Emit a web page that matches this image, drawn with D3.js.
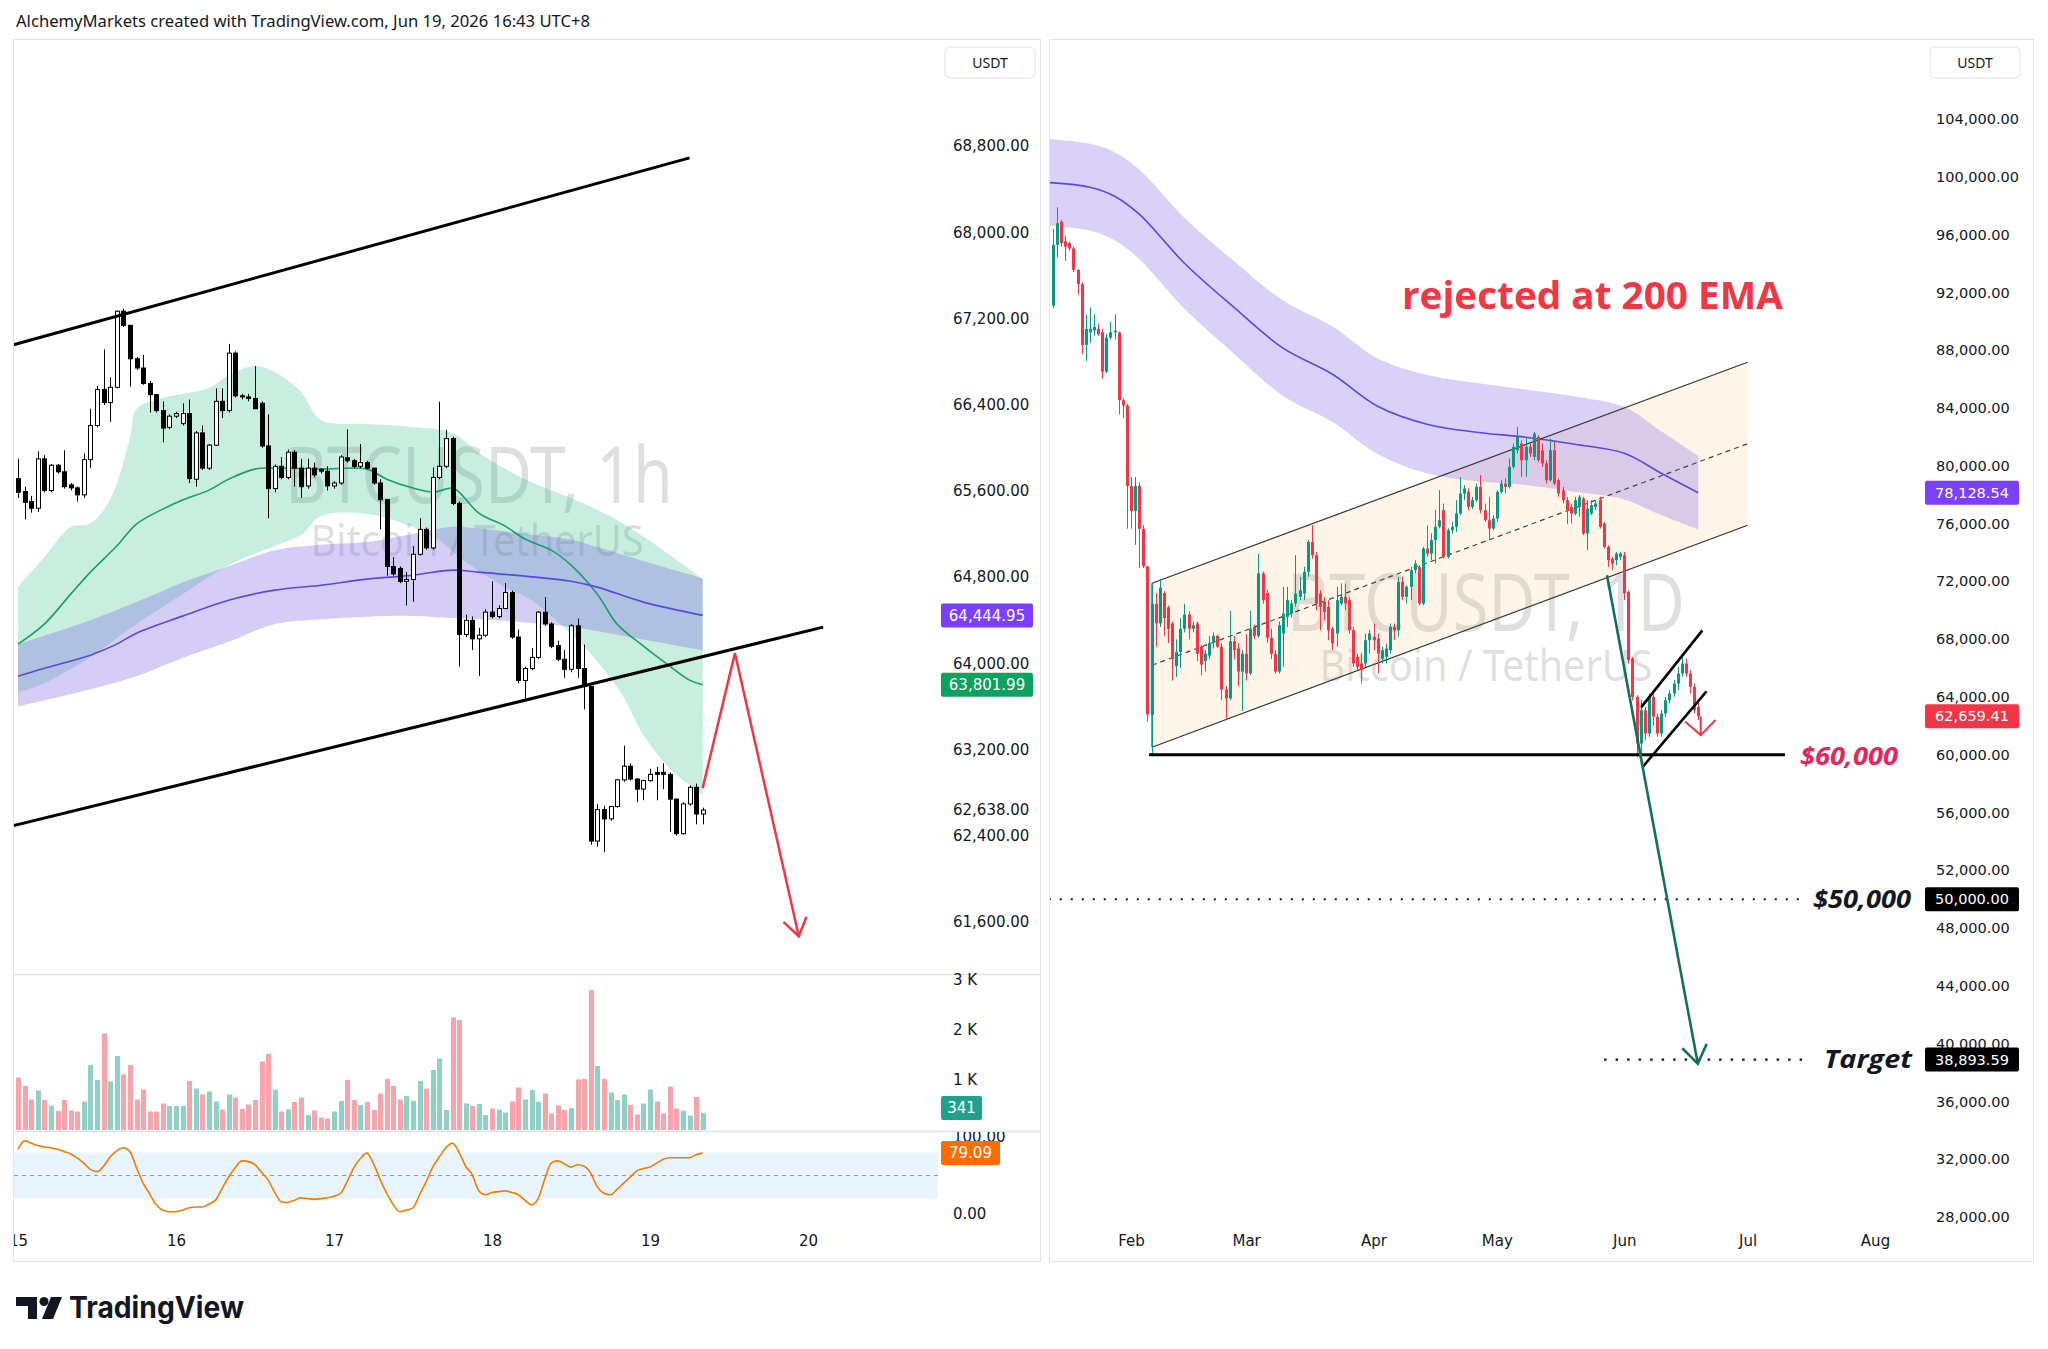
<!DOCTYPE html>
<html><head><meta charset="utf-8">
<script src="https://cdn.jsdelivr.net/npm/d3@7"></script>
<style>body{margin:0;background:#fff}svg{display:block}</style>
</head><body>
<script>
// ---------------- DATA ----------------
const H1_START = Date.UTC(2026,5,15);
const D1_START = Date.UTC(2026,0,13);
const HOUR = 3600e3, DAY = 86400e3;

// hourly BTCUSDT candles [open, high, low, close], starting Jun 15 00:00
const h1Candles = [
[65714,65897,65535,65587],[65594,65639,65336,65494],[65501,65553,65398,65439],[65439,65966,65405,65897],
[65897,65931,65587,65604],[65604,65850,65587,65838],[65838,65850,65760,65777],[65777,65976,65621,65639],
[65656,65673,65604,65628],[65628,65639,65501,65563],[65563,65948,65535,65890],[65890,66362,65811,66207],
[66207,66575,66190,66541],[66541,66913,66396,66420],[66420,66654,66241,66561],[66561,67274,66551,67267],
[67267,67290,67120,67136],[67136,67140,66568,66826],[66826,66844,66723,66740],[66740,66861,66585,66596],
[66596,66620,66327,66493],[66493,66500,66327,66345],[66345,66431,66052,66183],[66190,66310,66172,66293],
[66293,66334,66276,66317],[66224,66413,66207,66317],[66317,66448,65673,65714],[65708,66155,65639,66138],
[66138,66207,65794,65811],[65811,66035,65794,66024],[66024,66551,66017,66431],[66431,66551,66276,66345],
[66345,66964,66327,66878],[66878,66895,66465,66482],[66482,66500,66448,66472],[66472,66500,66431,66458],
[66458,66758,66362,66362],[66413,66431,66000,66017],[66017,66310,65346,65621],[65621,65845,65587,65828],
[65828,65914,65708,65725],[65725,65983,65708,65959],[65959,65976,65639,65811],[65811,65897,65535,65639],
[65646,65897,65621,65811],[65811,65862,65725,65749],[65801,65811,65760,65783],[65783,65828,65604,65646],
[65646,65690,65621,65673],[65673,65931,65656,65914],[65907,66172,65862,65880],[65880,65897,65811,65828],
[65828,66035,65811,65862],[65862,65880,65801,65811],[65811,65815,65656,65673],[65673,65708,65243,65518],
[65518,65520,64813,64898],[64898,64985,64813,64830],[64881,64898,64744,64761],[64761,64847,64537,64778],
[64778,65088,64571,65012],[65012,65346,65000,65243],[65243,65260,65054,65071],[65071,65818,65054,65725],
[65725,66427,65708,65828],[65828,66164,65811,66086],[66086,66103,65467,65484],[65484,65501,63969,64268],
[64268,64451,64244,64399],[64399,64434,64124,64227],[64227,64330,63883,64261],[64261,64502,64244,64475],
[64475,64761,64416,64434],[64434,64537,64416,64509],[64509,64744,64502,64657],[64657,64675,64227,64244],
[64244,64313,63814,63841],[63841,63969,63676,63952],[63952,64141,63935,64055],[64055,64485,64038,64475],
[64475,64613,64348,64365],[64365,64382,64141,64158],[64165,64210,64020,64038],[64038,64124,63866,63945],
[63945,64365,63917,64348],[64348,64416,63866,63952],[63952,64175,63573,63786],[63786,63790,62316,62351],
[62351,62695,62299,62643],[62643,62678,62247,62557],[62557,62678,62540,62671],[62671,62926,62661,62919],
[62919,63236,62902,63046],[63046,63074,62912,62926],[62926,62936,62712,62833],[62833,62919,62729,62912],
[62912,63022,62902,62970],[62988,63039,62729,62970],[62988,63074,62833,62970],[62970,62988,62437,62740],
[62740,62746,62402,62420],[62420,62712,62410,62695],[62695,62867,62678,62850],[62850,62884,62506,62602],
[62602,62661,62506,62638]];

// hourly volume, thousands
const h1Volume = [1.05,0.88,0.61,0.79,0.6,0.49,0.38,0.6,0.39,0.37,0.57,1.3,1.0,1.93,0.97,1.48,1.11,1.3,0.61,0.81,
0.37,0.37,0.53,0.48,0.48,0.48,0.98,0.83,0.71,0.77,0.57,0.41,0.71,0.65,0.42,0.51,0.6,1.37,1.52,0.81,
0.37,0.41,0.56,0.65,0.3,0.39,0.25,0.23,0.37,0.58,1.0,0.6,0.5,0.56,0.4,0.73,1.02,0.88,0.61,0.68,
0.58,0.98,0.83,1.2,1.43,0.4,2.25,2.2,0.53,0.48,0.52,0.3,0.43,0.41,0.35,0.57,0.85,0.61,0.8,0.56,
0.73,0.33,0.49,0.4,0.44,1.01,1.02,2.8,1.28,1.02,0.75,0.6,0.71,0.5,0.31,0.53,0.81,0.57,0.33,0.87,
0.43,0.39,0.29,0.66,0.341];

// hourly oscillator (stoch RSI)
const h1Osc = [84,95,92,89,87,86,84,81,78,73,66,58,55,62,74,82,86,81,60,40,
26,12,5,3,3,5,8,9,9,13,18,33,48,60,69,68,64,54,44,28,
16,15,18,21,20,19,20,21,23,27,42,60,72,79,65,45,27,12,3,5,
8,25,42,61,74,86,92,80,62,51,30,25,28,29,30,28,25,18,12,20,
45,66,69,65,61,64,62,53,35,27,25,32,40,48,56,59,61,66,71,73,
73,73,73,77,79.09];

// hourly moving averages [hour index, price]
const h1Ema50 = [[0,64178],[4,64364],[8,64642],[11,64846],[15,65088],[18,65292],[22,65431],[25,65515],[29,65607],[32,65709],
[36,65802],[39,65812],[46,65802],[53,65802],[56,65709],[60,65626],[63,65589],[66,65626],[67,65589],[70,65394],
[74,65273],[77,65153],[81,65050],[84,64911],[88,64642],[91,64364],[95,64160],[98,64020],[102,63844],[104,63801.99]];
const h1Ema50Upper = [[0,64707],[4,64986],[8,65264],[11,65300],[14,65520],[17,66090],[18,66359],[22,66461],[29,66554],[32,66675],
[36,66758],[39,66702],[43,66517],[46,66257],[53,66220],[60,66192],[66,66136],[70,65951],[77,65709],[84,65533],
[91,65329],[98,65050],[104,64781]];
const h1Ema50Lower = [[0,63728],[4,63816],[11,64057],[18,64364],[25,64642],[32,64911],[39,65088],[43,65190],[46,65366],[53,65385],
[60,65264],[64,65143],[67,64986],[71,64818],[74,64707],[78,64586],[81,64438],[85,64215],[88,64020],[92,63686],
[95,63333],[99,63027],[102,62870],[104,62777]];
const h1Ema200 = [[0,63881],[4,63955],[11,64076],[15,64178],[18,64280],[25,64438],[32,64586],[39,64679],[46,64725],[53,64781],
[60,64818],[66,64865],[70,64846],[77,64809],[84,64762],[88,64707],[95,64568],[104,64444.95]];
const h1Ema200Upper = [[0,64178],[11,64400],[18,64568],[25,64750],[32,64900],[39,65050],[46,65100],[53,65125],[60,65200],[66,65267],
[70,65250],[77,65200],[84,65150],[88,65080],[95,64950],[104,64790]];
const h1Ema200Lower = [[0,63600],[11,63760],[18,63881],[25,64050],[32,64200],[39,64364],[46,64410],[53,64433],[60,64440],[66,64420],
[70,64410],[77,64380],[84,64340],[88,64300],[95,64220],[104,64120]];

const leftPriceTicks = [61600,62400,63200,64000,64800,65600,66400,67200,68000,68800];
const leftDayTicks = [15,16,17,18,19,20];
const leftVolTicks = [1,2,3];
const leftOscTicks = [0,100];
const leftChannelUpper = [[-1,66950],[102,68690]];
const leftChannelLower = [[-1,62490],[122.3,64336]];
const leftArrow = [[104,62842],[108.9,64095],[118.6,61468]];
const leftLastPrice = 62638;

// daily BTCUSDT candles [open, high, low, close], starting Jan 13
const d1Candles = [
[91087,96401,90900,95289],[95289,97885,94424,96772],[96896,97020,95166,95412],[95536,95907,94177,95166],
[95412,95500,94900,95042],[95042,95150,93400,93558],[93558,93600,91828,92570],[92570,92693,87749,88367],
[88367,90468,87255,89480],[89233,90963,88490,89480],[89356,90468,89000,89603],[89480,89850,88985,89109],
[89233,89480,86019,86513],[86513,89109,86390,88862],[88862,89974,88738,89233],[89233,90468,88738,89356],
[89233,89300,83547,84536],[84536,84660,83300,84165],[84165,84289,75637,78603],[78603,79221,75637,76872],
[76872,79221,74525,78603],[78603,78850,72917,75637],[75637,75885,72917,73040],[73040,73040,62288,62782],
[62782,71805,60050,70446],[70446,71187,67479,69087],[69087,72176,68839,71558],[71187,71310,68221,69457],
[70199,70322,67726,68715],[69087,69210,65131,66614],[66120,67973,65378,67108],[67108,69457,65996,68715],
[68715,70446,68468,69704],[69704,69951,67973,68715],[68715,69210,68468,68963],[69087,69210,66490,66985],
[67479,67602,65502,66243],[66490,67232,65749,66985],[66861,68221,66614,67726],[67726,68468,67355,68221],
[68221,68300,67400,67479],[67479,67726,63771,64513],[64513,64760,62411,63895],[63895,69951,63771,67850],
[67850,68221,66614,67232],[67355,67726,64760,65749],[65749,67232,63029,66985],[66985,68345,65131,65625],
[65625,69951,65502,68715],[68839,69000,68000,68221],[68221,73907,68097,72547],[72547,72670,70446,70693],
[71187,71434,67726,68097],[68097,68715,66614,66985],[66985,67232,65625,65749],[65749,69210,65625,68963],
[68387,71617,66080,69771],[69541,71617,68848,70694],[69771,70700,69500,70463],[70463,73808,70233,71156],
[70925,72309,70694,71386],[71156,73001,70694,72655],[72655,74847,72309,74731],[74731,75885,73578,73808],
[73808,74039,70002,70463],[71156,71386,68618,70233],[70579,70925,69310,69887],[70233,70694,67926,68618],
[68733,68848,67234,67695],[68387,71617,67464,70694],[70463,71848,70348,70925],[70925,71848,70002,70463],
[70694,70925,68387,68618],[68618,68848,66080,66311],[66772,67003,65849,66080],[66311,67003,64927,65849],
[66311,68387,66080,67926],[67926,68618,67003,68387],[68157,69079,67234,67926],[68041,68387,65619,67003],
[66657,67464,66311,67234],[66772,67695,66311,67349],[67234,69079,67003,68848],[68848,69079,67926,68618],
[68618,72309,68157,71963],[71963,72309,70694,70925],[70925,71732,70463,71617],[71617,73001,70694,72770],
[72770,73462,72540,73232],[73001,73116,70348,70463],[70463,74385,70348,74270],[74270,75885,73693,73924],
[73924,75308,73462,74847],[74847,76923,73232,75769],[75769,78307,75654,76231],[76923,77384,73578,73693],
[73693,75654,73578,75539],[75539,76115,75308,75769],[75769,77615,75424,76692],[76692,79230,76577,78076],
[78076,78653,77615,78422],[78192,78422,76923,77154],[77154,77846,77000,77615],[77615,78769,77500,78538],
[78538,79345,76692,76923],[76923,77384,76115,76231],[76231,77846,74847,75654],[75654,76577,75539,76346],
[76346,78307,76115,78192],[78192,78999,78076,78769],[78769,79115,78076,78538],[78538,80499,78422,79922],
[79922,81537,79806,81306],[81075,82690,80845,81998],[81537,81768,79230,80383],[80383,81998,79230,81306],
[81306,81537,80614,80845],[80614,82344,80383,82229],[81998,82114,80268,80383],[81075,81537,79922,80153],
[80153,80383,78769,78999],[78999,81883,78900,81075],[81075,81652,78653,78769],[78999,79115,77846,78076],
[78307,78538,77384,77615],[77615,77846,75954,76923],[77154,77384,76000,76692],[76692,77846,76577,77615],
[77154,77961,76461,77846],[77730,77846,75192,75308],[75308,77615,74154,77038],[76692,77615,76577,77269],
[77154,77615,76923,77384],[77615,77846,75654,75769],[76000,76115,74270,74385],[74385,74500,73001,73462],
[73578,73693,72770,73232],[73462,74039,73116,73924],[73693,74039,73462,73924],[73808,74039,70694,71156],
[71271,71386,66311,66542],[66657,66772,63773,64003],[64003,64119,59851,60774],[60774,63773,60082,63081],
[63081,63312,61005,61466],[61466,64234,61235,64003],[64003,64234,62000,62619],[62619,62850,61235,61466],
[61466,63081,61235,62850],[62850,64003,62619,63773],[63773,64465,63542,64234],[64234,65157,64003,64927],
[64927,66080,64465,65619],[65619,66772,65388,66311],[66311,66657,65388,65619],[65619,65850,64234,64696],
[64696,64927,62850,63081],[63312,63773,62388,62659.41]];

// daily 200 EMA [day index, price]
const d1Ema200 = [[-1,99600],[9,99279],[15,98656],[21,97410],[32,94019],[44,90973],[56,88135],[68,86336],
[79,84121],[91,82875],[103,82321],[115,81975],[127,81491],[139,80868],[148,79483],[157,78128.54]];
const d1Ema200Upper = [[-1,102600],[9,102279],[15,101706],[21,100510],[32,97169],[44,94173],[56,91435],[68,89636],
[79,87421],[91,86275],[103,85721],[115,85275],[127,84791],[139,84068],[148,82383],[157,80680]];
const d1Ema200Lower = [[-1,96600],[9,96279],[15,95606],[21,94310],[32,90869],[44,87773],[56,84835],[68,83036],
[79,80821],[91,79475],[103,78921],[115,78675],[127,78191],[139,77668],[148,76583],[157,75580]];

const rightPriceTicks = [28000,32000,36000,40000,44000,48000,52000,56000,60000,64000,68000,72000,76000,80000,84000,88000,92000,96000,100000,104000];
const rightMonthTicks = [1,2,3,4,5,6,7]; // Feb..Aug (0-based months)
const channelUpper = [[24.1,71869],[169,87166]];
const channelLower = [[24.1,60517],[169,75883]];
const supportLine = [[23.4,60000],[178.1,60000]];
const level50k = [[-1,50000],[182.7,50000]];
const targetLine = [[134.1,38893.59],[182.7,38893.59]];
const greenArrow = [[134.8,72423],[156.9,38600]];
const flagUpper = [[143.1,63276],[158,68606]];
const flagLower = [[143.6,59192],[159,64383]];
const redArrowShaft = [[157.6,62659],[157.6,61355]];
const redArrowHead = [[153.8,62300],[157.6,61355],[161.2,62400]];
const rightLast = {ema: 78128.54, close: 62659.41, l50: 50000, target: 38893.59};

// ---------------- CHART ----------------
const W = 2048, H = 1349;
const fmt = d3.format(",.2f");
const svg = d3.select("body").append("svg").attr("width", W).attr("height", H)
  .style("font-family", "'DejaVu Sans', sans-serif");
svg.append("rect").attr("width", W).attr("height", H).attr("fill", "#fff");
const defs = svg.append("defs");
function clip(id, x, y, w, h) { defs.append("clipPath").attr("id", id).append("rect").attr("x", x).attr("y", y).attr("width", w).attr("height", h); }
clip("cL", 14, 40, 924, 934);
clip("cLV", 14, 975, 924, 156);
clip("cLO", 14, 1132, 924, 94);
clip("cLOA", 939, 1132, 101, 96);
clip("cLT", 14, 1228, 1026, 30);
clip("cR", 1050, 40, 870, 1188);

// header
svg.append("text").attr("x", 16).attr("y", 27).attr("font-family", "'Noto Sans', sans-serif").attr("font-size", 17)
  .attr("fill", "#131722").attr("textLength", 574).attr("lengthAdjust", "spacingAndGlyphs")
  .text("AlchemyMarkets created with TradingView.com, Jun 19, 2026 16:43 UTC+8");

// panel frames
svg.append("rect").attr("x", 13.5).attr("y", 39.5).attr("width", 1027).attr("height", 1222).attr("fill", "none").attr("stroke", "#e0e3eb");
svg.append("rect").attr("x", 1049.5).attr("y", 39.5).attr("width", 984).attr("height", 1222).attr("fill", "none").attr("stroke", "#e0e3eb");

// ======== LEFT (1h) ========
const xL = d3.scaleUtc().domain([Date.UTC(2026,5,15), Date.UTC(2026,5,20)]).range([18, 808]);
const hx = i => xL(H1_START + i * HOUR);
const yL = d3.scaleLinear().domain([61600, 68800]).range([922, 146]);
const yVol = d3.scaleLinear().domain([0, 3]).range([1130, 980]);
const yOsc = d3.scaleLinear().domain([0, 100]).range([1214, 1137]);

const gL = svg.append("g").attr("clip-path", "url(#cL)");
// watermark
gL.append("text").attr("x", 479).attr("y", 503).attr("text-anchor", "middle").attr("font-family", "'Noto Sans', sans-serif")
  .attr("font-size", 78).attr("fill", "rgba(106,109,120,0.22)").attr("textLength", 388).attr("lengthAdjust", "spacingAndGlyphs").text("BTCUSDT, 1h");
gL.append("text").attr("x", 477).attr("y", 556).attr("text-anchor", "middle").attr("font-family", "'Noto Sans', sans-serif")
  .attr("font-size", 44).attr("fill", "rgba(106,109,120,0.22)").attr("textLength", 333).attr("lengthAdjust", "spacingAndGlyphs").text("Bitcoin / TetherUS");

const curve = d3.curveCatmullRom.alpha(0.5);
const lineL = d3.line().x(d => hx(d[0])).y(d => yL(d[1])).curve(curve);
function band(line, up, lo) { const a = line(up), b = line(lo.slice().reverse()); return a + "L" + b.slice(1) + "Z"; }
gL.append("path").attr("d", band(lineL, h1Ema50Upper, h1Ema50Lower)).attr("fill", "rgba(40,190,130,0.26)");
gL.append("path").attr("d", band(lineL, h1Ema200Upper, h1Ema200Lower)).attr("fill", "rgba(120,90,230,0.30)");
gL.append("path").attr("d", lineL(h1Ema50)).attr("fill", "none").attr("stroke", "#1a9f68").attr("stroke-width", 1.6);
gL.append("path").attr("d", lineL(h1Ema200)).attr("fill", "none").attr("stroke", "#5f45e6").attr("stroke-width", 1.6);

// candles
const cL = gL.append("g").selectAll("g").data(h1Candles).join("g");
cL.append("line").attr("x1", (d, i) => Math.round(hx(i)) + 0.5).attr("x2", (d, i) => Math.round(hx(i)) + 0.5)
  .attr("y1", d => yL(d[1])).attr("y2", d => yL(d[2])).attr("stroke", "#000").attr("stroke-width", 1);
cL.append("rect").attr("x", (d, i) => Math.round(hx(i)) - 1.5).attr("width", 4)
  .attr("y", d => yL(Math.max(d[0], d[3]))).attr("height", d => Math.max(1, yL(Math.min(d[0], d[3])) - yL(Math.max(d[0], d[3]))))
  .attr("fill", d => d[3] >= d[0] ? "#fff" : "#000").attr("stroke", "#000").attr("stroke-width", 1);

// channel lines
const lineLs = d3.line().x(d => hx(d[0])).y(d => yL(d[1]));
[leftChannelUpper, leftChannelLower].forEach(p => gL.append("path").attr("d", lineLs(p)).attr("stroke", "#000").attr("stroke-width", 3).attr("fill", "none"));
// red arrow
gL.append("path").attr("d", lineLs(leftArrow)).attr("stroke", "#f23645").attr("stroke-width", 2.5).attr("fill", "none");
function arrowHead(g, p0, p1, len, color, w) {
  const ang = Math.atan2(p1[1] - p0[1], p1[0] - p0[0]);
  const a1 = ang + Math.PI - 0.6, a2 = ang + Math.PI + 0.6;
  g.append("path").attr("d", `M${p1[0] + len * Math.cos(a1)},${p1[1] + len * Math.sin(a1)}L${p1[0]},${p1[1]}L${p1[0] + len * Math.cos(a2)},${p1[1] + len * Math.sin(a2)}`)
    .attr("stroke", color).attr("stroke-width", w).attr("fill", "none");
}
{
  const n = leftArrow.length;
  arrowHead(gL, [hx(leftArrow[n-2][0]), yL(leftArrow[n-2][1])], [hx(leftArrow[n-1][0]), yL(leftArrow[n-1][1])], 21, "#f23645", 2.5);
}

// left price axis
const axL = svg.append("g").attr("transform", "translate(953,0)")
  .call(d3.axisRight(yL).tickValues(leftPriceTicks).tickFormat(fmt).tickSize(0).tickPadding(0));
axL.select(".domain").remove();
axL.selectAll("text").attr("font-size", 15).attr("font-family", "'DejaVu Sans', sans-serif").attr("fill", "#131722");
svg.append("text").attr("x", 953).attr("y", yL(leftLastPrice)).attr("dy", "0.35em").attr("font-size", 15).attr("fill", "#131722").text(fmt(leftLastPrice));
function tag(x, y, w, color, txt, fs) {
  svg.append("rect").attr("x", x).attr("y", y - 12).attr("width", w).attr("height", 24).attr("rx", 2).attr("fill", color);
  svg.append("text").attr("x", x + w / 2).attr("y", y).attr("dy", "0.35em").attr("text-anchor", "middle").attr("font-size", fs || 15).attr("fill", "#fff").text(txt);
}
tag(941, yL(h1Ema200[h1Ema200.length - 1][1]), 92, "#7b3fff", fmt(h1Ema200[h1Ema200.length - 1][1]));
tag(941, yL(h1Ema50[h1Ema50.length - 1][1]), 92, "#0ba25d", fmt(h1Ema50[h1Ema50.length - 1][1]));

// USDT buttons
function usdt(x) {
  svg.append("rect").attr("x", x).attr("y", 47).attr("width", 90).attr("height", 31).attr("rx", 5).attr("fill", "#fff").attr("stroke", "#e0e3eb");
  svg.append("text").attr("x", x + 45).attr("y", 63).attr("dy", "0.35em").attr("text-anchor", "middle").attr("font-size", 14)
    .attr("font-family", "'Noto Sans', sans-serif").attr("fill", "#131722").text("USDT");
}
usdt(945); usdt(1930);

// panes separators
svg.append("line").attr("x1", 14).attr("x2", 1040).attr("y1", 974.5).attr("y2", 974.5).attr("stroke", "#e0e3eb").attr("stroke-width", 1.5);
svg.append("line").attr("x1", 14).attr("x2", 1040).attr("y1", 1131.5).attr("y2", 1131.5).attr("stroke", "#e0e3eb").attr("stroke-width", 1.5);

// volume
const gV = svg.append("g").attr("clip-path", "url(#cLV)");
gV.selectAll("rect").data(h1Volume).join("rect")
  .attr("x", (d, i) => Math.round(hx(i)) - 2).attr("width", 5)
  .attr("y", d => yVol(d)).attr("height", d => yVol(0) - yVol(d))
  .attr("fill", (d, i) => (h1Candles[i] && h1Candles[i][3] >= h1Candles[i][0]) ? "rgba(8,153,129,0.45)" : "rgba(242,54,69,0.45)");
const axV = svg.append("g").attr("transform", "translate(953,0)")
  .call(d3.axisRight(yVol).tickValues(leftVolTicks).tickFormat(d => d + " K").tickSize(0).tickPadding(0));
axV.select(".domain").remove();
axV.selectAll("text").attr("font-size", 15).attr("font-family", "'DejaVu Sans', sans-serif").attr("fill", "#131722");
tag(941, yVol(h1Volume[h1Volume.length - 1]) - 5, 41, "#22a08c", String(Math.round(h1Volume[h1Volume.length - 1] * 1000)));

// oscillator
const gO = svg.append("g").attr("clip-path", "url(#cLO)");
gO.append("rect").attr("x", 14).attr("width", 924).attr("y", yOsc(80)).attr("height", yOsc(20) - yOsc(80)).attr("fill", "rgba(33,150,243,0.1)");
gO.append("line").attr("x1", 14).attr("x2", 938).attr("y1", yOsc(50)).attr("y2", yOsc(50)).attr("stroke", "#9598a1").attr("stroke-dasharray", "4,4").attr("stroke-width", 1);
gO.append("path").attr("d", d3.line().x((d, i) => hx(i)).y(d => yOsc(d)).curve(d3.curveMonotoneX)(h1Osc))
  .attr("fill", "none").attr("stroke", "#f57c00").attr("stroke-width", 1.6);
const axO = svg.append("g").attr("clip-path", "url(#cLOA)").append("g").attr("transform", "translate(953,0)")
  .call(d3.axisRight(yOsc).tickValues(leftOscTicks).tickFormat(d3.format(".2f")).tickSize(0).tickPadding(0));
axO.select(".domain").remove();
axO.selectAll("text").attr("font-size", 15).attr("font-family", "'DejaVu Sans', sans-serif").attr("fill", "#131722");
tag(941, yOsc(h1Osc[h1Osc.length - 1]), 59, "#ff6d00", d3.format(".2f")(h1Osc[h1Osc.length - 1]));

// left time axis
const axT = svg.append("g").attr("clip-path", "url(#cLT)").append("g").attr("transform", "translate(0,1235)")
  .call(d3.axisBottom(xL).tickValues(leftDayTicks.map(d => new Date(Date.UTC(2026,5,d)))).tickFormat(d3.utcFormat("%-d")).tickSize(0).tickPadding(0));
axT.select(".domain").remove();
axT.selectAll("text").attr("font-size", 15).attr("font-family", "'DejaVu Sans', sans-serif").attr("fill", "#131722");

// ======== RIGHT (1D) ========
const xR = d3.scaleUtc().domain([Date.UTC(2026,1,1), Date.UTC(2026,7,1)]).range([1131, 1875]);
const dx = d => xR(D1_START + d * DAY);
const yR = d3.scaleLinear().domain([28000, 104000]).range([1217, 119]);
const gR = svg.append("g").attr("clip-path", "url(#cR)");

gR.append("text").attr("x", 1486).attr("y", 631).attr("text-anchor", "middle").attr("font-family", "'Noto Sans', sans-serif")
  .attr("font-size", 80).attr("fill", "rgba(106,109,120,0.22)").attr("textLength", 398).attr("lengthAdjust", "spacingAndGlyphs").text("BTCUSDT, 1D");
gR.append("text").attr("x", 1486).attr("y", 681).attr("text-anchor", "middle").attr("font-family", "'Noto Sans', sans-serif")
  .attr("font-size", 44).attr("fill", "rgba(106,109,120,0.22)").attr("textLength", 333).attr("lengthAdjust", "spacingAndGlyphs").text("Bitcoin / TetherUS");

const lineRs = d3.line().x(d => dx(d[0])).y(d => yR(d[1]));
const lineR = d3.line().x(d => dx(d[0])).y(d => yR(d[1])).curve(curve);
// channel fill
gR.append("path").attr("d", lineRs(channelUpper) + "L" + lineRs(channelLower.slice().reverse()).slice(1) + "Z").attr("fill", "rgba(255,190,110,0.15)");
// EMA band
gR.append("path").attr("d", band(lineR, d1Ema200Upper, d1Ema200Lower)).attr("fill", "rgba(120,90,230,0.28)");
gR.append("path").attr("d", lineR(d1Ema200)).attr("fill", "none").attr("stroke", "#5f45e6").attr("stroke-width", 1.6);
// channel lines
gR.append("path").attr("d", lineRs(channelUpper)).attr("stroke", "#333").attr("stroke-width", 1.2).attr("fill", "none");
gR.append("path").attr("d", lineRs(channelLower)).attr("stroke", "#333").attr("stroke-width", 1.2).attr("fill", "none");
gR.append("path").attr("d", lineRs([[channelUpper[0][0], (channelUpper[0][1] + channelLower[0][1]) / 2], [channelUpper[1][0], (channelUpper[1][1] + channelLower[1][1]) / 2]]))
  .attr("stroke", "#444").attr("stroke-width", 1.2).attr("stroke-dasharray", "5,4").attr("fill", "none");
gR.append("line").attr("x1", dx(channelUpper[0][0])).attr("x2", dx(channelLower[0][0])).attr("y1", yR(channelUpper[0][1])).attr("y2", yR(channelLower[0][1]))
  .attr("stroke", "#333").attr("stroke-width", 1);

// candles
const cR = gR.append("g").selectAll("g").data(d1Candles).join("g");
const col = d => d[3] >= d[0] ? "#089981" : "#f23645";
cR.append("line").attr("x1", (d, i) => Math.round(dx(i)) + 0.5).attr("x2", (d, i) => Math.round(dx(i)) + 0.5)
  .attr("y1", d => yR(d[1])).attr("y2", d => yR(d[2])).attr("stroke", col).attr("stroke-width", 1);
cR.append("rect").attr("x", (d, i) => Math.round(dx(i)) - 1).attr("width", 3)
  .attr("y", d => yR(Math.max(d[0], d[3]))).attr("height", d => Math.max(1, yR(Math.min(d[0], d[3])) - yR(Math.max(d[0], d[3]))))
  .attr("fill", col);

// horizontal levels
gR.append("path").attr("d", lineRs(supportLine)).attr("stroke", "#000").attr("stroke-width", 3).attr("fill", "none");
gR.append("path").attr("d", lineRs(level50k)).attr("stroke", "#131722").attr("stroke-width", 2).attr("stroke-dasharray", "2,9").attr("fill", "none");
gR.append("path").attr("d", lineRs(targetLine)).attr("stroke", "#131722").attr("stroke-width", 2.2).attr("stroke-dasharray", "2.5,9").attr("fill", "none");
// flag
[flagUpper, flagLower].forEach(p => gR.append("path").attr("d", lineRs(p)).attr("stroke", "#000").attr("stroke-width", 2.6).attr("fill", "none"));
// green arrow
gR.append("path").attr("d", lineRs(greenArrow)).attr("stroke", "#13705d").attr("stroke-width", 2.6).attr("fill", "none");
arrowHead(gR, [dx(greenArrow[0][0]), yR(greenArrow[0][1])], [dx(greenArrow[1][0]), yR(greenArrow[1][1])], 22, "#13705d", 2.6);
// red small arrow
gR.append("path").attr("d", lineRs(redArrowShaft)).attr("stroke", "#f23645").attr("stroke-width", 2).attr("fill", "none");
gR.append("path").attr("d", lineRs(redArrowHead)).attr("stroke", "#f23645").attr("stroke-width", 2).attr("fill", "none");

// annotations
const annF = "'Open Sans', 'Noto Sans', sans-serif";
svg.append("text").attr("x", 1402).attr("y", 309).attr("font-family", annF).attr("font-weight", "bold").attr("font-size", 37)
  .attr("fill", "#f23645").attr("textLength", 381).attr("lengthAdjust", "spacingAndGlyphs").text("rejected at 200 EMA");
svg.append("text").attr("x", 1800).attr("y", yR(60000) + 10).attr("font-family", annF).attr("font-weight", "bold").attr("font-style", "italic")
  .attr("font-size", 25).attr("fill", "#e8245c").attr("textLength", 98).attr("lengthAdjust", "spacingAndGlyphs").text("$60,000");
svg.append("text").attr("x", 1813).attr("y", yR(50000) + 9).attr("font-family", annF).attr("font-weight", "bold").attr("font-style", "italic")
  .attr("font-size", 25).attr("fill", "#131722").attr("textLength", 98).attr("lengthAdjust", "spacingAndGlyphs").text("$50,000");
svg.append("text").attr("x", 1824).attr("y", yR(38893.59) + 8).attr("font-family", annF).attr("font-weight", "bold").attr("font-style", "italic")
  .attr("font-size", 25).attr("fill", "#131722").attr("textLength", 88).attr("lengthAdjust", "spacingAndGlyphs").text("Target");

// right price axis
const axR = svg.append("g").attr("transform", "translate(1936,0)")
  .call(d3.axisRight(yR).tickValues(rightPriceTicks).tickFormat(fmt).tickSize(0).tickPadding(0));
axR.select(".domain").remove();
axR.selectAll("text").attr("font-size", 14.5).attr("font-family", "'DejaVu Sans', sans-serif").attr("fill", "#131722");
tag(1925, yR(rightLast.ema), 94, "#7b3fff", fmt(rightLast.ema), 14.5);
tag(1925, yR(rightLast.close), 94, "#f23645", fmt(rightLast.close), 14.5);
tag(1925, yR(rightLast.l50), 94, "#000", fmt(rightLast.l50), 14.5);
tag(1925, yR(rightLast.target), 94, "#000", fmt(rightLast.target), 14.5);

// right time axis
const axRT = svg.append("g").attr("transform", "translate(0,1235)")
  .call(d3.axisBottom(xR).tickValues(rightMonthTicks.map(m => new Date(Date.UTC(2026, m, 1)))).tickFormat(d3.utcFormat("%b")).tickSize(0).tickPadding(0));
axRT.select(".domain").remove();
axRT.selectAll("text").attr("font-size", 15).attr("font-family", "'DejaVu Sans', sans-serif").attr("fill", "#131722");

// TradingView logo
const logo = svg.append("g").attr("fill", "#131722");
logo.append("path").attr("d", "M16,1297H37V1319H28V1306H16Z");
logo.append("circle").attr("cx", 44).attr("cy", 1301.5).attr("r", 4.5);
logo.append("path").attr("d", "M51,1297H62L53,1319H42Z");
logo.append("text").attr("x", 69).attr("y", 1318).attr("font-family", "'Inter', 'Noto Sans', sans-serif").attr("font-weight", "bold")
  .attr("font-size", 30).attr("textLength", 175).attr("lengthAdjust", "spacingAndGlyphs").text("TradingView");
</script>
</body></html>
